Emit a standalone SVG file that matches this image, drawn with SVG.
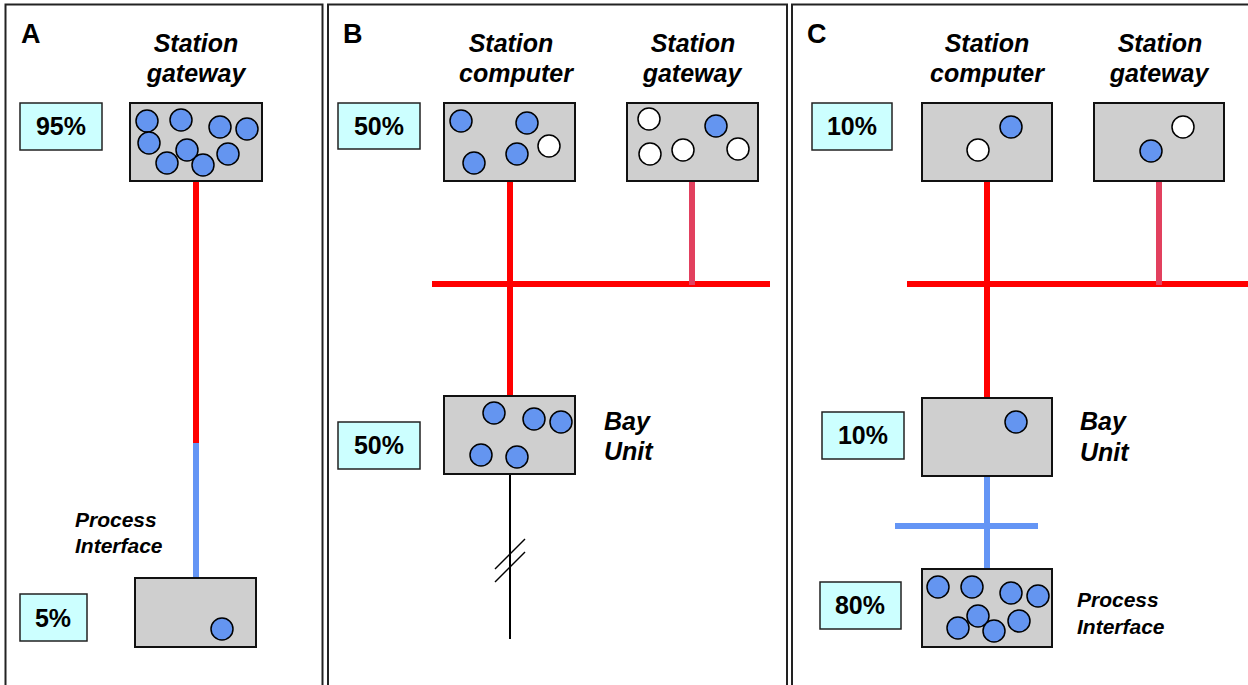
<svg xmlns="http://www.w3.org/2000/svg" width="1248" height="685" viewBox="0 0 1248 685">
<style>
.panel{fill:#fff;stroke:#222;stroke-width:2}
.box{fill:#cfcfcf;stroke:#111;stroke-width:2}
.pct{fill:#ccffff;stroke:#222;stroke-width:1.5}
.b{fill:#6495f0;stroke:#000;stroke-width:1.5}
.w{fill:#fff;stroke:#000;stroke-width:1.5}
.lbl{font-family:"Liberation Sans",Arial,sans-serif;font-weight:bold;font-style:italic;font-size:25px;fill:#000}
.sm{font-size:21px}
.pt{font-family:"Liberation Sans",Arial,sans-serif;font-weight:bold;font-size:25px;fill:#000;text-anchor:middle}
.let{font-family:"Liberation Sans",Arial,sans-serif;font-weight:bold;font-size:27px;fill:#000}
.mid{text-anchor:middle}
.red{stroke:#ff0000;stroke-width:6;fill:none}
.pink{stroke:#e2405e;stroke-width:6;fill:none}
.blue{stroke:#6495f5;stroke-width:6;fill:none}
.thin{stroke:#000;stroke-width:2;fill:none}
</style>
<rect width="1248" height="685" fill="#fff"/>
<g id="panels">
<rect class="panel" x="5.5" y="4.5" width="317" height="700"/>
<rect class="panel" x="328" y="4.5" width="459" height="700"/>
<rect class="panel" x="792" y="4.5" width="470" height="700"/>
<text class="let" x="21" y="43">A</text>
<text class="let" x="343" y="43">B</text>
<text class="let" x="807" y="43">C</text>
</g>
<g id="connectors">
<line class="red" x1="196" y1="181" x2="196" y2="444"/>
<line class="blue" x1="196" y1="443" x2="196" y2="578"/>
<line class="red" x1="432" y1="284" x2="770" y2="284"/>
<line class="red" x1="510" y1="181" x2="510" y2="396"/>
<line class="pink" x1="692" y1="181" x2="692" y2="285"/>
<line class="thin" x1="510" y1="474" x2="510" y2="639"/>
<line stroke="#000" stroke-width="1.5" x1="495" y1="569" x2="525" y2="539"/>
<line stroke="#000" stroke-width="1.5" x1="495" y1="582" x2="525" y2="552"/>
<line class="red" x1="907" y1="284" x2="1248" y2="284"/>
<line class="red" x1="987" y1="181" x2="987" y2="398"/>
<line class="pink" x1="1159" y1="181" x2="1159" y2="285"/>
<line class="blue" x1="987" y1="476" x2="987" y2="569"/>
<line class="blue" x1="895" y1="526" x2="1038" y2="526"/>
</g>
<g id="A-gateway">
<text class="lbl mid" x="196" y="52">Station</text>
<text class="lbl mid" x="196" y="82">gateway</text>
<rect class="pct" x="20" y="103" width="82" height="47"/>
<text class="pt" x="61" y="135">95%</text>
<rect class="box" x="130" y="103" width="132" height="78"/>
<circle class="b" cx="147" cy="121" r="11"/>
<circle class="b" cx="181" cy="120" r="11"/>
<circle class="b" cx="220" cy="127" r="11"/>
<circle class="b" cx="247" cy="129" r="11"/>
<circle class="b" cx="149" cy="143" r="11"/>
<circle class="b" cx="187" cy="150" r="11"/>
<circle class="b" cx="167" cy="163" r="11"/>
<circle class="b" cx="203" cy="165" r="11"/>
<circle class="b" cx="228" cy="154" r="11"/>
</g>
<g id="A-process">
<text class="lbl sm" x="75" y="527">Process</text>
<text class="lbl sm" x="75" y="553">Interface</text>
<rect class="pct" x="20" y="594" width="67" height="47"/>
<text class="pt" x="53" y="627">5%</text>
<rect class="box" x="135" y="578" width="121" height="69"/>
<circle class="b" cx="222" cy="629" r="11"/>
</g>
<g id="B-computer">
<text class="lbl mid" x="511" y="52">Station</text>
<text class="lbl mid" x="516" y="82">computer</text>
<rect class="pct" x="338" y="103" width="82" height="46"/>
<text class="pt" x="379" y="135">50%</text>
<rect class="box" x="444" y="103" width="131" height="78"/>
<circle class="b" cx="461" cy="121" r="11"/>
<circle class="b" cx="527" cy="123" r="11"/>
<circle class="w" cx="549" cy="146" r="11"/>
<circle class="b" cx="517" cy="154" r="11"/>
<circle class="b" cx="474" cy="163" r="11"/>
</g>
<g id="B-gateway">
<text class="lbl mid" x="693" y="52">Station</text>
<text class="lbl mid" x="692" y="82">gateway</text>
<rect class="box" x="627" y="103" width="131" height="78"/>
<circle class="w" cx="649" cy="119" r="11"/>
<circle class="b" cx="716" cy="126" r="11"/>
<circle class="w" cx="738" cy="149" r="11"/>
<circle class="w" cx="683" cy="150" r="11"/>
<circle class="w" cx="650" cy="154" r="11"/>
</g>
<g id="B-bay">
<text class="lbl" x="604" y="430">Bay</text>
<text class="lbl" x="604" y="460">Unit</text>
<rect class="pct" x="338" y="422" width="82" height="47"/>
<text class="pt" x="379" y="454">50%</text>
<rect class="box" x="444" y="396" width="131" height="78"/>
<circle class="b" cx="494" cy="413" r="11"/>
<circle class="b" cx="534" cy="419" r="11"/>
<circle class="b" cx="561" cy="422" r="11"/>
<circle class="b" cx="481" cy="455" r="11"/>
<circle class="b" cx="517" cy="457" r="11"/>
</g>
<g id="C-computer">
<text class="lbl mid" x="987" y="52">Station</text>
<text class="lbl mid" x="987" y="82">computer</text>
<rect class="pct" x="812" y="103" width="80" height="47"/>
<text class="pt" x="852" y="135">10%</text>
<rect class="box" x="922" y="103" width="130" height="78"/>
<circle class="b" cx="1011" cy="127" r="11"/>
<circle class="w" cx="978" cy="150" r="11"/>
</g>
<g id="C-gateway">
<text class="lbl mid" x="1160" y="52">Station</text>
<text class="lbl mid" x="1159" y="82">gateway</text>
<rect class="box" x="1094" y="103" width="130" height="78"/>
<circle class="w" cx="1183" cy="127" r="11"/>
<circle class="b" cx="1151" cy="151" r="11"/>
</g>
<g id="C-bay">
<text class="lbl" x="1080" y="430">Bay</text>
<text class="lbl" x="1080" y="461">Unit</text>
<rect class="pct" x="822" y="412" width="82" height="47"/>
<text class="pt" x="863" y="444">10%</text>
<rect class="box" x="922" y="398" width="130" height="78"/>
<circle class="b" cx="1016" cy="422" r="11"/>
</g>
<g id="C-process">
<text class="lbl sm" x="1077" y="607">Process</text>
<text class="lbl sm" x="1077" y="634">Interface</text>
<rect class="pct" x="820" y="582" width="81" height="47"/>
<text class="pt" x="860" y="614">80%</text>
<rect class="box" x="922" y="569" width="130" height="78"/>
<circle class="b" cx="938" cy="587" r="11"/>
<circle class="b" cx="972" cy="587" r="11"/>
<circle class="b" cx="1011" cy="593" r="11"/>
<circle class="b" cx="1038" cy="596" r="11"/>
<circle class="b" cx="978" cy="616" r="11"/>
<circle class="b" cx="958" cy="628" r="11"/>
<circle class="b" cx="994" cy="631" r="11"/>
<circle class="b" cx="1019" cy="621" r="11"/>
</g>
</svg>
